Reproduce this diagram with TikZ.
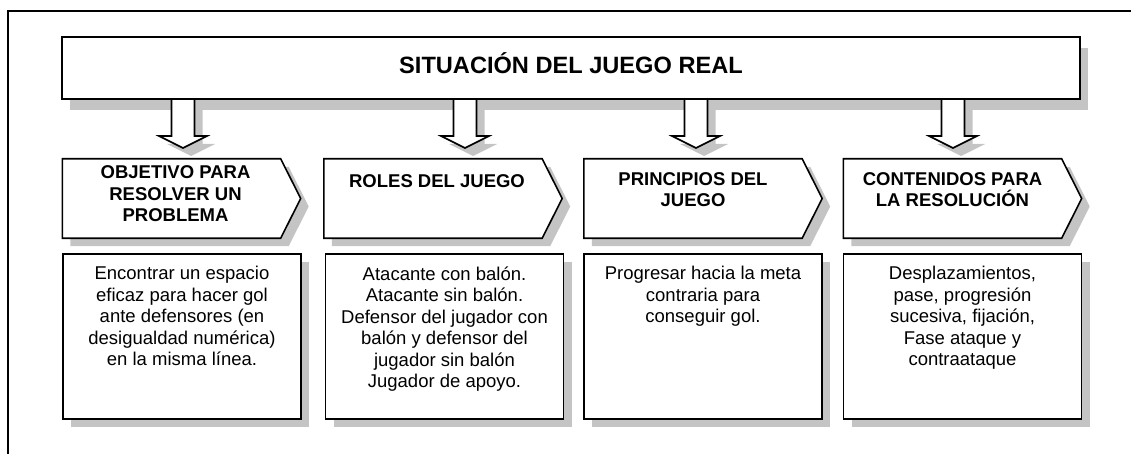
\documentclass[tikz,border=0pt]{standalone}
\usepackage{fontspec}
\setmainfont{Liberation Sans}
\usetikzlibrary{positioning,shadows}
\definecolor{sombragris}{RGB}{196,196,196}

\begin{document}
\begin{tikzpicture}[x=1pt,y=-1pt,
    borde/.style={draw=black,line width=1.6pt,fill=white},
    sombra/.style={drop shadow={shadow xshift=8pt,shadow yshift=-8pt,fill=sombragris,opacity=1}},
    caja/.style={borde,sombra,rectangle,inner sep=0pt,minimum width=238pt,minimum height=165pt},
    cabeza/.style={rectangle,inner sep=0pt,minimum width=218pt,minimum height=79pt},
    txtcabeza/.style={inner sep=0pt,align=center,font=\fontsize{18.5}{21.4}\selectfont\bfseries,execute at begin node=\strut},
    txtcaja/.style={inner sep=0pt,align=center,font=\fontsize{18.5}{21.5}\selectfont,execute at begin node=\strut}]
  \useasboundingbox (0,0) rectangle (1131,454);
  \draw[line width=1.5pt] (8,454) -- (8,11) -- (1131,11);

  % situacion
  \node[borde,rectangle,inner sep=0pt,minimum width=1018pt,minimum height=62pt,
        text height=17pt,text depth=6pt,
        drop shadow={shadow xshift=8pt,shadow yshift=-11pt,fill=sombragris,opacity=1},
        font=\fontsize{23.6}{28}\selectfont\bfseries] (titulo) at (571,68) {SITUACIÓN DEL JUEGO REAL};

  % flechas
  \coordinate (f1) at (183,99);
  \coordinate (f2) at (465,99);
  \coordinate (f3) at (696,99);
  \coordinate (f4) at (953,99);
  \draw[borde,sombra] (f1) ++(-11.5,0) -- ++(0,37) -- ++(-12.5,0) -- ++(24,12) -- ++(24,-12) -- ++(-12.5,0) -- ++(0,-37) -- cycle;
  \draw[borde,sombra] (f2) ++(-11.5,0) -- ++(0,37) -- ++(-12.5,0) -- ++(24,12) -- ++(24,-12) -- ++(-12.5,0) -- ++(0,-37) -- cycle;
  \draw[borde,sombra] (f3) ++(-11.5,0) -- ++(0,37) -- ++(-12.5,0) -- ++(24,12) -- ++(24,-12) -- ++(-12.5,0) -- ++(0,-37) -- cycle;
  \draw[borde,sombra] (f4) ++(-11.5,0) -- ++(0,37) -- ++(-12.5,0) -- ++(24,12) -- ++(24,-12) -- ++(-12.5,0) -- ++(0,-37) -- cycle;

  % cabezas
  \node[cabeza] (cab1) at (171.5,198.5) {};
  \node[cabeza] (cab2) at (433,198.5) {};
  \node[cabeza] (cab3) at (693,198.5) {};
  \node[cabeza] (cab4) at (952.5,198.5) {};
  \draw[borde,sombra] (cab1.north west) -- (cab1.north east) -- ([xshift=20pt]cab1.east) -- (cab1.south east) -- (cab1.south west) -- cycle;
  \draw[borde,sombra] (cab2.north west) -- (cab2.north east) -- ([xshift=20pt]cab2.east) -- (cab2.south east) -- (cab2.south west) -- cycle;
  \draw[borde,sombra] (cab3.north west) -- (cab3.north east) -- ([xshift=20pt]cab3.east) -- (cab3.south east) -- (cab3.south west) -- cycle;
  \draw[borde,sombra] (cab4.north west) -- (cab4.north east) -- ([xshift=20pt]cab4.east) -- (cab4.south east) -- (cab4.south west) -- cycle;
  \node[txtcabeza,below=7pt of cab1.north,xshift=4pt] (tcab1) {OBJETIVO PARA\\RESOLVER UN\\PROBLEMA};
  \node[txtcabeza,below=13.5pt of cab2.north,xshift=4pt] (tcab2) {ROLES DEL JUEGO};
  \node[txtcabeza,below=13.5pt of cab3.north] (tcab3) {PRINCIPIOS DEL\\JUEGO};
  \node[txtcabeza,below=13.5pt of cab4.north] (tcab4) {CONTENIDOS PARA\\LA RESOLUCIÓN};

  % cajas
  \node[caja] (caja1) at (182,336.5) {};
  \node[caja] (caja2) at (444.5,336.5) {};
  \node[caja] (caja3) at (703,336.5) {};
  \node[caja] (caja4) at (962.5,336.5) {};
  \node[txtcaja,below=13pt of caja1.north] (tcaja1) {Encontrar un espacio\\eficaz para hacer gol\\ante defensores (en\\desigualdad numérica)\\en la misma línea.};
  \node[txtcaja,below=13pt of caja2.north] (tcaja2) {Atacante con balón.\\Atacante sin balón.\\Defensor del jugador con\\balón y defensor del\\jugador sin balón\\Jugador de apoyo.};
  \node[txtcaja,below=13pt of caja3.north] (tcaja3) {Progresar hacia la meta\\contraria para\\conseguir gol.};
  \node[txtcaja,below=13pt of caja4.north] (tcaja4) {Desplazamientos,\\pase, progresión\\sucesiva, fijación,\\Fase ataque y\\contraataque};
\end{tikzpicture}
\end{document}
